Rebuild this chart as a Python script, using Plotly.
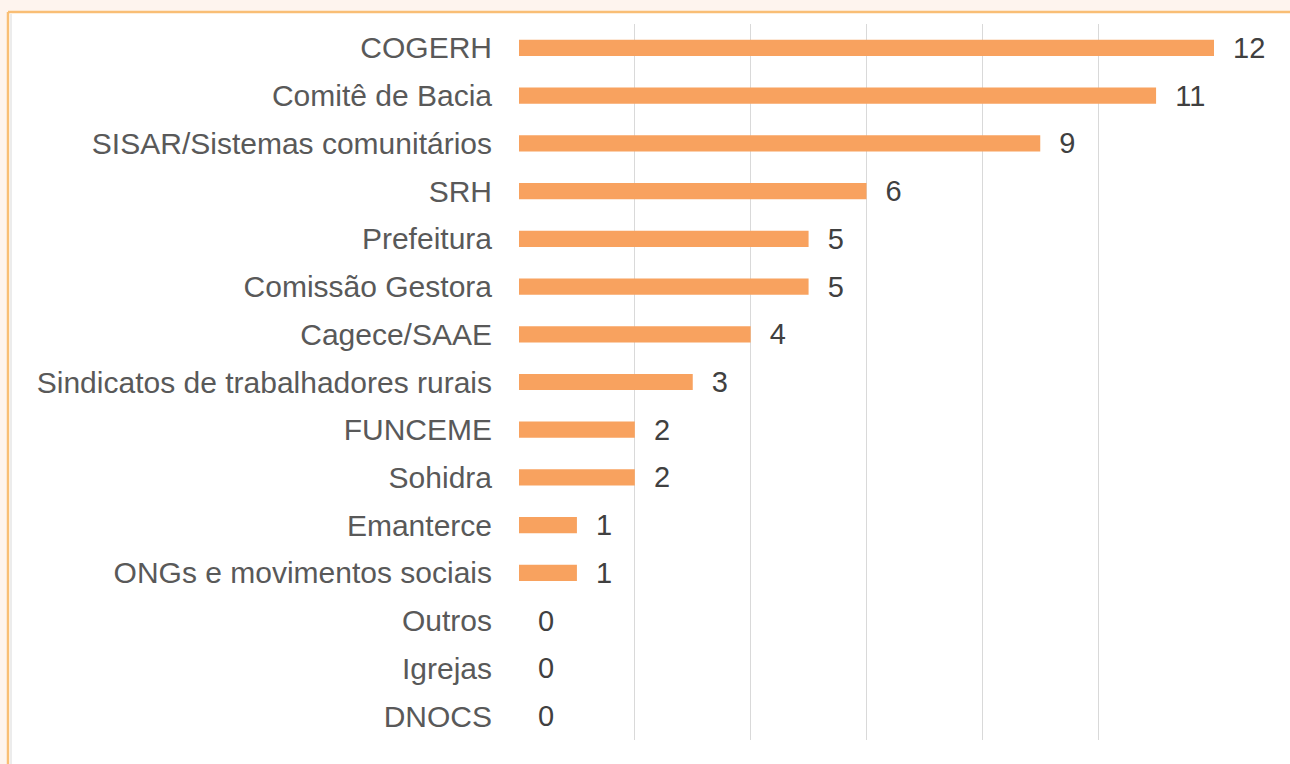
import plotly.graph_objects as go

categories = ["COGERH", "Comitê de Bacia", "SISAR/Sistemas comunitários", "SRH",
              "Prefeitura", "Comissão Gestora", "Cagece/SAAE",
              "Sindicatos de trabalhadores rurais", "FUNCEME", "Sohidra",
              "Emanterce", "ONGs e movimentos sociais", "Outros", "Igrejas", "DNOCS"]
values = [12, 11, 9, 6, 5, 5, 4, 3, 2, 2, 1, 1, 0, 0, 0]
x_ticks = [0, 2, 4, 6, 8, 10, 12]

W, H = 1290, 764
L, R, T, B = 519, 76, 24, 24
pw, ph = W - L - R, H - T - B

def px_x(p):
    return (p - L) / pw

def px_y(p):
    return (H - B - p) / ph

fig = go.Figure(go.Bar(
    y=categories, x=values, orientation="h",
    marker=dict(color="#F8A25F", line=dict(width=0)),
    width=0.34,
    text=values, texttemplate="  %{x}", textposition="outside",
    constraintext="none",
    textfont=dict(size=29, color="#404040", family="Liberation Sans, Arial"),
    cliponaxis=False,
))

shapes = [
    dict(type="rect", xref="paper", yref="paper", layer="below",
         x0=px_x(9), x1=px_x(W + 5), y0=px_y(H + 5), y1=px_y(12),
         fillcolor="white", line=dict(width=0)),
    dict(type="line", xref="paper", yref="paper", layer="below",
         x0=px_x(8), x1=px_x(W + 5), y0=px_y(12), y1=px_y(12),
         line=dict(color="#F9BE75", width=2.5)),
    dict(type="line", xref="paper", yref="paper", layer="below",
         x0=px_x(8), x1=px_x(8), y0=px_y(12), y1=px_y(H + 5),
         line=dict(color="#F9BE75", width=2.5)),
    dict(type="line", xref="paper", yref="paper", layer="below",
         x0=px_x(11), x1=px_x(11), y0=px_y(14), y1=px_y(H + 5),
         line=dict(color="#E6E6E6", width=1.5)),
]

fig.update_layout(
    width=W, height=H,
    margin=dict(l=L, r=R, t=T, b=B, pad=0),
    paper_bgcolor="#FEF4EE",
    plot_bgcolor="rgba(0,0,0,0)",
    showlegend=False,
    shapes=shapes,
    font=dict(family="Liberation Sans, Arial", color="#595959"),
    xaxis=dict(range=[0, 12], tickvals=x_ticks, showticklabels=False,
               showgrid=True, gridcolor="#D9D9D9", gridwidth=1,
               zeroline=False, showline=False, fixedrange=True),
    yaxis=dict(autorange="reversed", showgrid=False, zeroline=False,
               showline=False, ticks="", ticklabelstandoff=26,
               tickfont=dict(size=30, color="#595959",
                             family="Liberation Sans, Arial")),
)

fig.write_html("out.html", config={"displayModeBar": False},
               post_script="document.body.style.margin='0';")
